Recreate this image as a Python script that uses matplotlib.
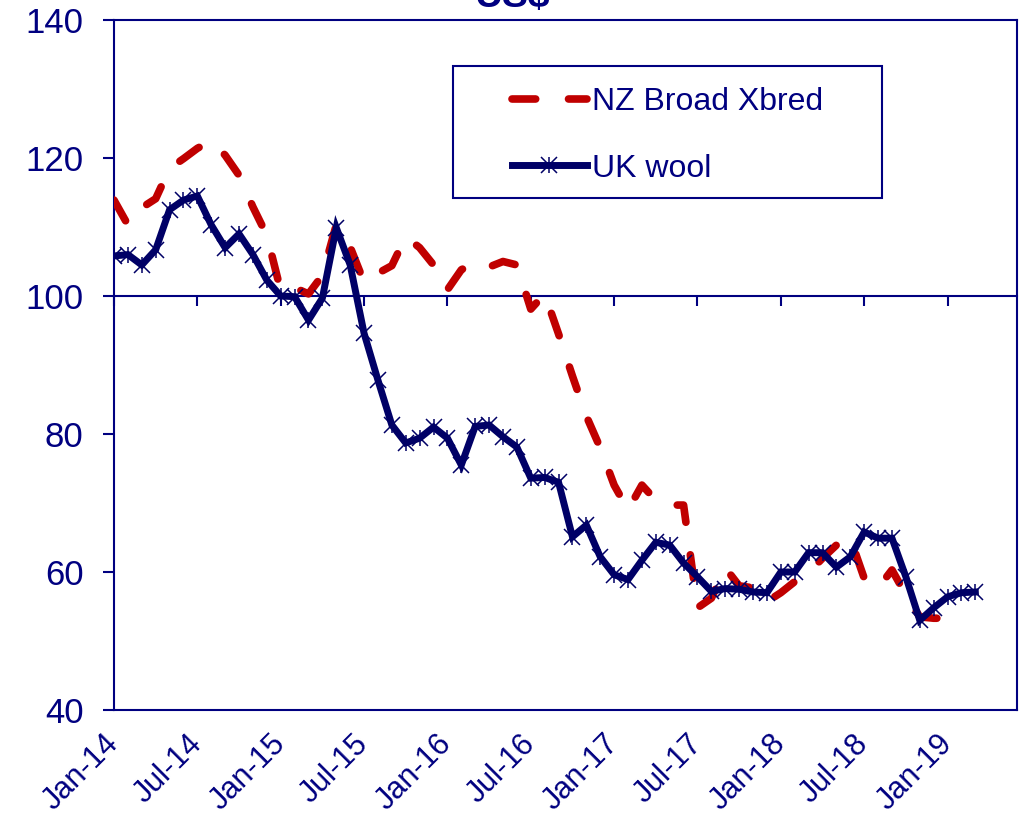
import numpy as np
import matplotlib
matplotlib.use('Agg')
import matplotlib.pyplot as plt
from matplotlib.patches import Rectangle
from matplotlib.legend_handler import HandlerTuple

# ======== DATOS (mensual, desde Jan-14) ========
nz_broad = [113.9, 110.3, 112.8, 114.1, 118.5, 119.9, 121.4, 122.5, 120.4, 117.5,
            112.9, 108.8, 100.8, 101.2, 100.3, 103.0, 110.3, 107.1, 102.0, 103.3,
            104.4, 108.6, 107.0, 104.5, 100.9, 103.8, 104.9, 104.2, 105.0, 104.5,
            98.1, 100.3, 94.5, 88.4, 82.6, 78.0, 72.6, 69.0, 72.6, 70.4,
            69.7, 69.7, 54.8, 56.2, 60.6, 58.0, 57.7, 55.7, 57.0, 58.6,
            59.9, 62.0, 63.9, 64.9, 59.1, 57.7, 60.3, 56.7, 53.5, 53.3, 53.3]
uk_wool = [105.8, 106.0, 104.5, 106.7, 112.5, 113.9, 114.5, 110.3, 107.0, 109.0,
           106.0, 102.3, 100.0, 99.9, 96.5, 99.7, 109.9, 104.5, 94.6, 87.8,
           81.3, 78.7, 79.4, 81.0, 79.4, 75.5, 81.1, 81.3, 79.6, 78.1,
           73.6, 73.7, 73.0, 65.1, 66.8, 62.2, 59.6, 58.9, 61.7, 64.3,
           63.9, 61.3, 59.3, 57.2, 57.6, 57.5, 57.1, 57.0, 60.0, 60.0,
           62.8, 62.8, 60.7, 62.2, 65.8, 64.9, 64.9, 59.3, 53.0, 54.8,
           56.4, 57.0, 57.1]
tick_labels = ['Jan-14', 'Jul-14', 'Jan-15', 'Jul-15', 'Jan-16', 'Jul-16',
               'Jan-17', 'Jul-17', 'Jan-18', 'Jul-18', 'Jan-19']
y_ticks = [40, 60, 80, 100, 120, 140]

# ======== ESTILO ========
NAVY = '#000080'
LINE_NAVY = '#000066'
RED = '#C00000'
plt.rcParams['font.family'] = ['Liberation Sans', 'DejaVu Sans']

fig = plt.figure(figsize=(10.25, 8.22), dpi=100)
ax = fig.add_axes([114 / 1025, 112 / 822, 903 / 1025, 690 / 822])

x_nz = np.arange(len(nz_broad))
x_uk = np.arange(len(uk_wool))

nz_line, = ax.plot(x_nz, nz_broad, color=RED, lw=5.5, dashes=(3.1, 4.3),
                   dash_capstyle='round', solid_capstyle='round', zorder=3)
uk_line, = ax.plot(x_uk, uk_wool, color=LINE_NAVY, lw=5, marker='x',
                   ms=11, mew=1.1, solid_joinstyle='miter', zorder=4)
uk_bar, = ax.plot(x_uk, uk_wool, ls='none', color=LINE_NAVY, marker='|',
                  ms=11, mew=1.1, zorder=4)

ax.set_xlim(0, 65)
ax.set_ylim(40, 140)

# ejes y marco
for s in ax.spines.values():
    s.set_color(NAVY)
    s.set_linewidth(1.5)
ax.spines['bottom'].set_position(('data', 100))
ax.set_xticks(np.arange(0, 6 * len(tick_labels), 6))
ax.tick_params(axis='x', direction='out', length=7, width=1.5, color=NAVY,
               labelbottom=False)
ax.set_yticks(y_ticks)
ax.tick_params(axis='y', direction='out', length=8, width=1.5, color=NAVY,
               pad=14, labelcolor=NAVY, labelsize=25)

sec = ax.secondary_xaxis('bottom')
sec.spines['bottom'].set_color(NAVY)
sec.spines['bottom'].set_linewidth(1.5)
sec.set_xticks(np.arange(0, 6 * len(tick_labels), 6), tick_labels)
sec.tick_params(length=0, pad=21, labelcolor=NAVY, labelsize=22)
for lab in sec.get_xticklabels():
    lab.set_rotation(45)
    lab.set_rotation_mode('anchor')
    lab.set_ha('right')
    lab.set_va('center')

# leyenda
ax.add_patch(Rectangle((0.3754, 0.742), 0.4751, 0.1913, transform=ax.transAxes,
                       fill=False, ec=NAVY, lw=1.5, zorder=5))
leg = ax.legend([nz_line, (uk_line, uk_bar)], ['NZ Broad Xbred', 'UK wool'],
                handler_map={tuple: HandlerTuple(ndivide=1)},
                loc='upper left', bbox_to_anchor=((512 - 114) / 903, 0.903),
                borderpad=0, borderaxespad=0, frameon=False, fontsize=23,
                handlelength=2.34, handletextpad=0.16, labelspacing=1.15,
                labelcolor=NAVY, numpoints=1)

fig.text(512 / 1025, 1 - 7 / 822, r'US\$', ha='center', va='baseline',
         fontsize=28, fontweight='bold', color=NAVY)

fig.savefig('out.png', dpi=100)
